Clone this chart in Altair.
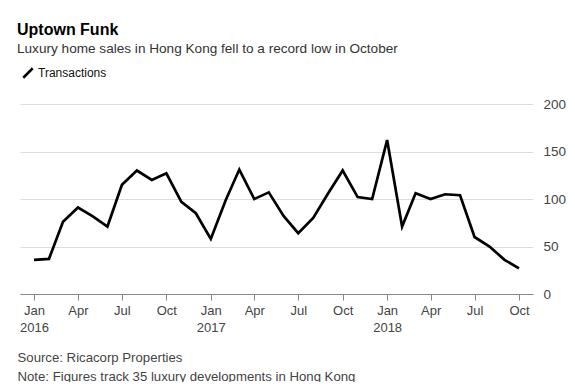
import altair as alt
import pandas as pd

# Monthly categories (Jan 2016 - Oct 2018)
months = [
    "2016-01-01", "2016-02-01", "2016-03-01", "2016-04-01", "2016-05-01", "2016-06-01",
    "2016-07-01", "2016-08-01", "2016-09-01", "2016-10-01", "2016-11-01", "2016-12-01",
    "2017-01-01", "2017-02-01", "2017-03-01", "2017-04-01", "2017-05-01", "2017-06-01",
    "2017-07-01", "2017-08-01", "2017-09-01", "2017-10-01", "2017-11-01", "2017-12-01",
    "2018-01-01", "2018-02-01", "2018-03-01", "2018-04-01", "2018-05-01", "2018-06-01",
    "2018-07-01", "2018-08-01", "2018-09-01", "2018-10-01",
]
transactions = [
    36, 37, 76, 91, 82, 71, 115, 130, 120, 127, 97, 85,
    58, 99, 131, 100, 107, 82, 64, 80, 106, 130, 102, 100,
    162, 71, 106, 100, 105, 104, 60, 50, 36, 27,
]
series_name = "Transactions"
y_ticks = [0, 50, 100, 150, 200]
tick_years = [2016, 2017, 2018]
tick_months = [1, 4, 7, 10]

title_text = "Uptown Funk"
subtitle_text = "Luxury home sales in Hong Kong fell to a record low in October"
footer_lines = ["Source: Ricacorp Properties",
                "Note: Figures track 35 luxury developments in Hong Kong"]

FONT = "Liberation Sans"

df = pd.DataFrame({"date": months, "value": transactions, "series": series_name})

x_values = [alt.DateTime(year=y, month=m, date=1, utc=True)
            for y in tick_years for m in tick_months
            if not (y == 2018 and m > 10)]

label_expr = ("utcFormat(datum.value, '%m') == '01' ? "
              "[utcFormat(datum.value, '%b'), utcFormat(datum.value, '%Y')] : "
              "utcFormat(datum.value, '%b')")

chart = alt.Chart(df).mark_line(strokeWidth=2.7, strokeJoin="miter").encode(
    x=alt.X(
        "date:T",
        scale=alt.Scale(
            type="utc",
            domain=[alt.DateTime(year=2015, month=12, date=3, utc=True),
                    alt.DateTime(year=2018, month=10, date=30, utc=True)],
        ),
        axis=alt.Axis(
            values=x_values,
            labelExpr=label_expr,
            labelFont=FONT, labelFontSize=13, labelColor="#444",
            labelLineHeight=17, labelPadding=4,
            tickSize=6, tickColor="#888", tickWidth=1,
            domainColor="#888", domainWidth=1,
            grid=False,
            title=footer_lines,
            titleFont=FONT, titleFontSize=13.2, titleFontWeight="normal",
            titleColor="#444", titleAnchor="start", titleAlign="left",
            titleBaseline="alphabetic", titleLineHeight=19,
            titleX=-3, titleY=67,
        ),
    ),
    y=alt.Y(
        "value:Q",
        scale=alt.Scale(domain=[0, 200]),
        axis=alt.Axis(
            orient="right", values=y_ticks, title=None,
            domain=False, ticks=False,
            labelFont=FONT, labelFontSize=13.5, labelColor="#444",
            labelPadding=10, labelAlign="left",
            gridColor="#dddddd", gridWidth=1.2,
        ),
    ),
    color=alt.Color(
        "series:N",
        scale=alt.Scale(range=["black"]),
        legend=alt.Legend(
            orient="none", legendX=2, legendY=-37, title=None,
            symbolType="M-1,1L1,-1", symbolSize=90, symbolStrokeWidth=2.5,
            labelFont=FONT, labelFontSize=12, labelColor="#111",
        ),
    ),
).properties(
    width=513,
    height=190,
    autosize=alt.AutoSizeParams(type="none"),
    padding={"left": 12, "top": 96, "right": 34, "bottom": 88},
    title=alt.Title(
        title_text,
        subtitle=subtitle_text,
        anchor="start", frame="group", dx=-3,
        font=FONT, fontSize=16, fontWeight="bold", color="#000",
        subtitleFont=FONT, subtitleFontSize=13.6, subtitleColor="#333",
        subtitlePadding=4, offset=11,
    ),
).configure_view(stroke=None)

chart.save("out.html", embed_options={"renderer": "svg", "actions": False})
